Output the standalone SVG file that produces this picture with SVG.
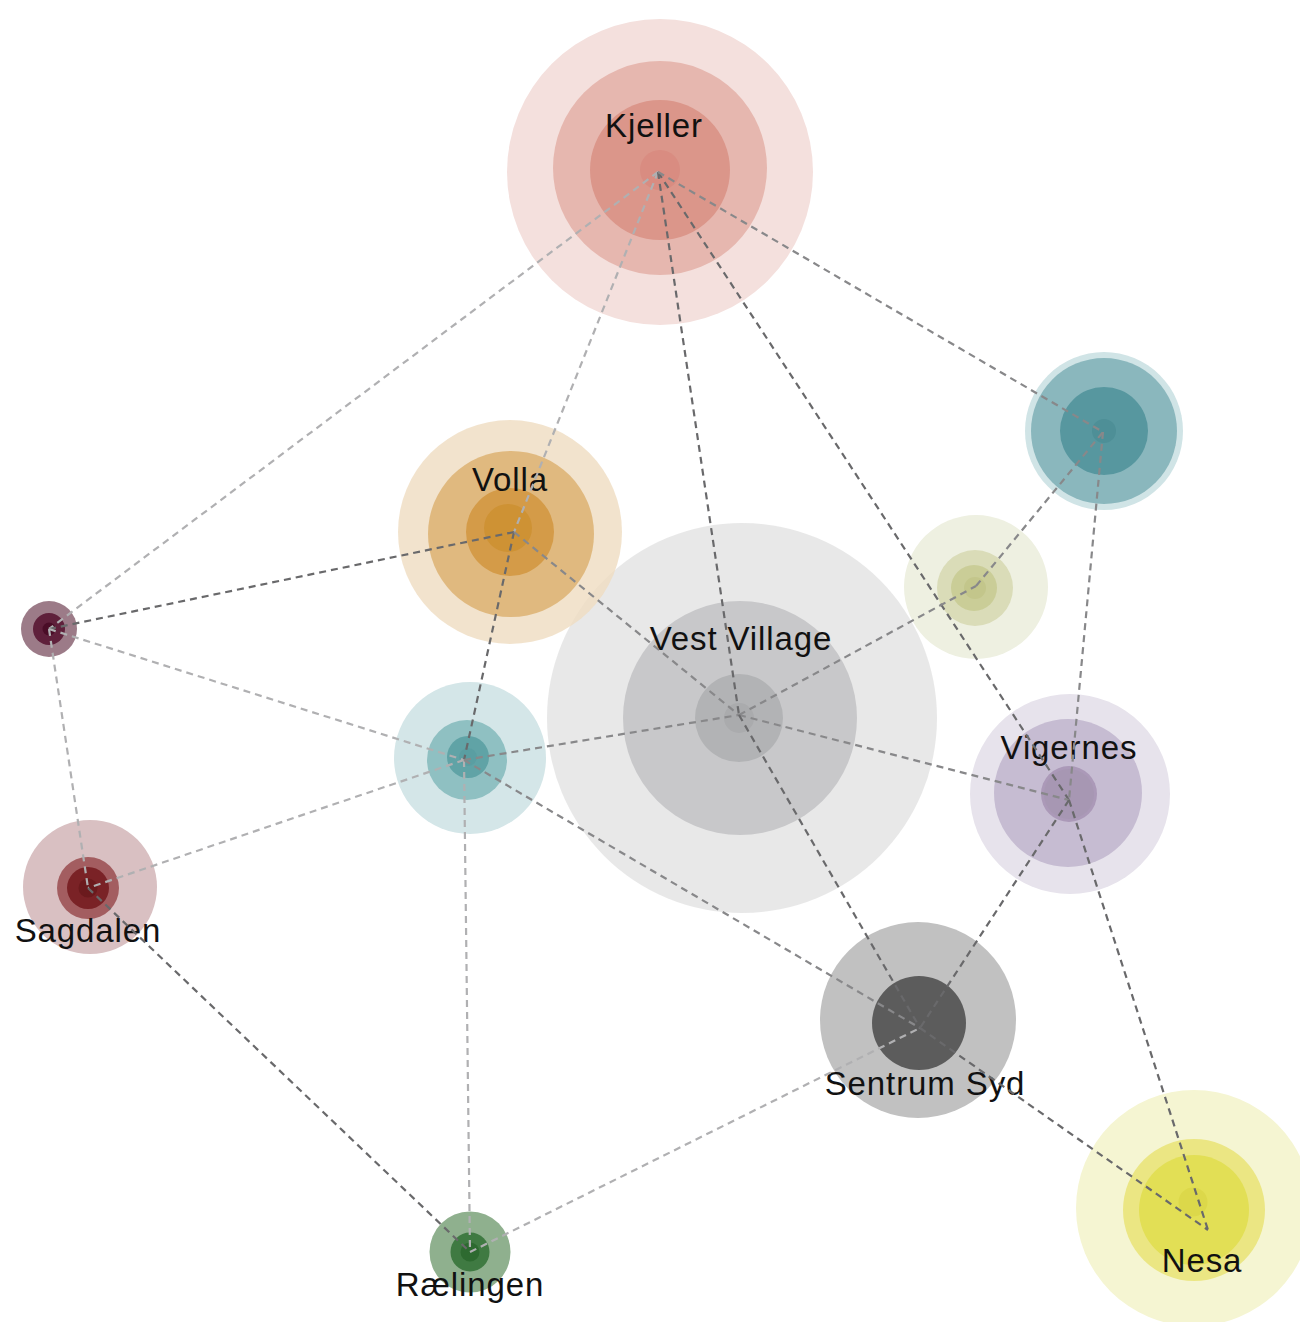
<svg xmlns="http://www.w3.org/2000/svg" width="1300" height="1322" viewBox="0 0 1300 1322">
<style>
text{font-family:"Liberation Sans",Arial,sans-serif;font-size:33px;fill:#111;text-anchor:middle;letter-spacing:0.9px}
.e{fill:none;stroke-width:2.2;stroke-dasharray:7 5}
.d{stroke:#69696b}
.m{stroke:#88888a}
.l{stroke:#b0b0b2}
</style>
<rect width="1300" height="1322" fill="#fff"/>
<g id="nodes">
<g id="kjeller">
<circle cx="660" cy="172" r="153" fill="#f4e0dd"/>
<circle cx="660" cy="168" r="107" fill="#e6b7af"/>
<circle cx="660" cy="170" r="70" fill="#db968a"/>
<circle cx="660" cy="170" r="20" fill="#d98c81"/>
<text x="654" y="137">Kjeller</text>
</g>
<g id="teal-top">
<circle cx="1104" cy="431" r="79" fill="#d0e4e6"/>
<circle cx="1104" cy="431" r="73" fill="#8ab7bd"/>
<circle cx="1104" cy="431" r="44" fill="#57979f"/>
<circle cx="1104" cy="431" r="12" fill="#4e8f97"/>
</g>
<g id="vest-village">
<circle cx="742" cy="718" r="195" fill="#e2e2e2" fill-opacity="0.8"/>
<circle cx="740" cy="718" r="117" fill="#c8c8ca"/>
<circle cx="739" cy="718" r="44" fill="#b2b3b5"/>
<circle cx="739" cy="718" r="15" fill="#aaabad"/>
<text x="741" y="650">Vest Village</text>
</g>
<g id="volla">
<circle cx="510" cy="532" r="112" fill="#efdcc0" fill-opacity="0.8"/>
<circle cx="511" cy="534" r="83" fill="#e0b97f"/>
<circle cx="510" cy="532" r="44" fill="#d49b48"/>
<circle cx="508" cy="528" r="24" fill="#ce9234"/>
<text x="510" y="491">Volla</text>
</g>
<g id="olive">
<circle cx="976" cy="587" r="72" fill="#eef0e1"/>
<circle cx="975" cy="588" r="38" fill="#dadcb8"/>
<circle cx="974" cy="588" r="23" fill="#cacd97"/>
<circle cx="975" cy="588" r="11" fill="#c3c68b"/>
</g>
<g id="purple">
<circle cx="49" cy="629" r="28" fill="#9c7b88"/>
<circle cx="49" cy="629" r="16" fill="#5f203b"/>
<circle cx="49" cy="629" r="6.5" fill="#4a0d27"/>
</g>
<g id="teal-small">
<circle cx="470" cy="758" r="76" fill="#d4e6e8"/>
<circle cx="467" cy="760" r="40" fill="#8fc0c2"/>
<circle cx="468" cy="757" r="21" fill="#60a3a6"/>
<circle cx="468" cy="757" r="9" fill="#5a9ea2"/>
</g>
<g id="vigernes">
<circle cx="1070" cy="794" r="100" fill="#e7e3ec"/>
<circle cx="1068" cy="793" r="74" fill="#c6bcd2"/>
<circle cx="1069" cy="794" r="28" fill="#ab99b8"/>
<circle cx="1069" cy="794" r="25" fill="#a797b3"/>
<text x="1069" y="759">Vigernes</text>
</g>
<g id="sagdalen">
<circle cx="90" cy="887" r="67" fill="#d9c0c2"/>
<circle cx="88" cy="888" r="31" fill="#a35d60"/>
<circle cx="88" cy="888" r="21" fill="#7a2226"/>
<circle cx="88" cy="888" r="9.5" fill="#6b1a1d"/>
<text x="88" y="942">Sagdalen</text>
</g>
<g id="sentrum-syd">
<circle cx="918" cy="1020" r="98" fill="#c1c1c1"/>
<circle cx="919" cy="1023" r="47" fill="#5c5c5c"/>
<text x="925" y="1095">Sentrum Syd</text>
</g>
<g id="nesa">
<circle cx="1194" cy="1208" r="118" fill="#f5f5d2"/>
<circle cx="1194" cy="1210" r="71" fill="#ebe683"/>
<circle cx="1194" cy="1210" r="55" fill="#e2df55"/>
<circle cx="1193" cy="1202" r="14.5" fill="#dcd84a"/>
<text x="1202" y="1272">Nesa</text>
</g>
<g id="raelingen">
<circle cx="470" cy="1252" r="40.5" fill="#8fb08e"/>
<circle cx="470" cy="1252" r="19.5" fill="#3f7a42"/>
<circle cx="470" cy="1252" r="9.5" fill="#2d6a30"/>
<text x="470" y="1296">Rælingen</text>
</g>
</g>
<g id="connectors">
<line class="e l" x1="658" y1="172" x2="49" y2="629"/>
<line class="e l" x1="658" y1="172" x2="514" y2="532"/>
<line class="e d" x1="658" y1="172" x2="739" y2="715"/>
<line class="e d" x1="658" y1="172" x2="1069" y2="800"/>
<line class="e m" x1="658" y1="172" x2="1103" y2="432"/>
<line class="e d" x1="49" y1="629" x2="514" y2="532"/>
<line class="e l" x1="49" y1="629" x2="464" y2="760"/>
<line class="e l" x1="49" y1="629" x2="88" y2="888"/>
<line class="e d" x1="514" y1="532" x2="464" y2="760"/>
<line class="e m" x1="514" y1="532" x2="739" y2="715"/>
<line class="e m" x1="464" y1="760" x2="739" y2="715"/>
<line class="e l" x1="464" y1="760" x2="88" y2="888"/>
<line class="e l" x1="464" y1="760" x2="470" y2="1252"/>
<line class="e m" x1="464" y1="760" x2="920" y2="1028"/>
<line class="e m" x1="739" y1="715" x2="976" y2="586"/>
<line class="e m" x1="739" y1="715" x2="1069" y2="800"/>
<line class="e d" x1="739" y1="715" x2="920" y2="1028"/>
<line class="e m" x1="976" y1="586" x2="1103" y2="432"/>
<line class="e m" x1="1103" y1="432" x2="1069" y2="800"/>
<line class="e d" x1="1069" y1="800" x2="920" y2="1028"/>
<line class="e d" x1="1069" y1="800" x2="1208" y2="1230"/>
<line class="e d" x1="920" y1="1028" x2="1208" y2="1230"/>
<line class="e d" x1="88" y1="888" x2="470" y2="1252"/>
<line class="e l" x1="470" y1="1252" x2="920" y2="1028"/>
</g>
</svg>
